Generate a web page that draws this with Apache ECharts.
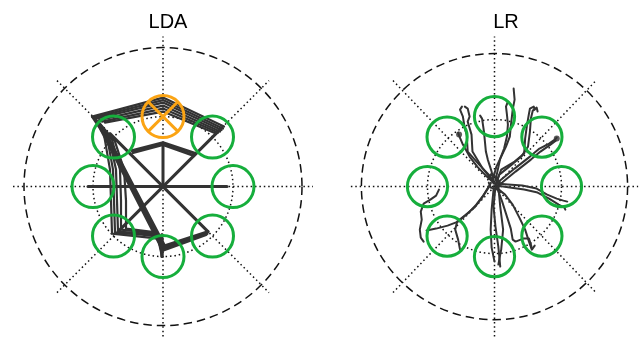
<!DOCTYPE html>
<html>
<head>
<meta charset="utf-8">
<script src="https://cdn.jsdelivr.net/npm/echarts@6/dist/echarts.min.js"></script>
<style>
  html, body { margin: 0; padding: 0; background: #fff; }
  #chart { width: 641px; height: 341px; }
</style>
</head>
<body>
<div id="chart"></div>
<script>
// Workspace geometry (mm, centre of workspace at 0,0)
const panelTitles = ['LDA', 'LR'];
const targetX = [70, 49.5, 0, -49.5, -70, -49.5, 0, 49.5];
const targetY = [0, 49.5, 70, 49.5, 0, -49.5, -70, -49.5];
const targetRadius = 21;
const workspaceRadius = 139;
const ringRadius = 70;
// dotted guide lines through the centre: [x1, y1, x2, y2]
const guideLines = [
  [-150, 0, 150, 0],
  [0, -150, 0, 150],
  [-106, -106, 106, 106],
  [-106, 106, 106, -106]
];
// LDA panel: cued target drawn in orange with a cross
const cuedTarget = 2;

// LDA decoded cursor paths (single jumps between class positions)
const ldaPaths = [
  [[0, 0], [-75, 0]],
  [[0, 0], [64, 0]],
  [[0, 0], [0, 43]],
  [[-53, 53], [45, -45]],
  [[-45, -45], [59, 59]],
  [[-31, 36], [0, 44], [33, 33]],
  [[-30, 34], [0, 42], [31, 31]],
  [[-62, 57], [-1, -62]],
  [[-60, 56], [0, -60]],
  [[-58, 55], [1, -58]],
  [[45, -45], [-1, -60], [-1, -70]],
  [[44, -47], [-1, -62]],
  [[43, -48], [-1, -64]],
  [[-1, -48], [-1, -70]]
];
// LDA repeated trials that pile up into bundles
const ldaBundlePaths = [
  [[-71, 70], [0, 89], [61, 60]],
  [[-69, 69], [0, 86.5], [60, 58]],
  [[-67, 68], [0, 84], [58.5, 56.5]],
  [[-64, 66.5], [0, 81], [57, 55]],
  [[-61, 65], [0, 78], [55, 54]],
  [[-58, 64], [0, 75], [53, 53]],
  [[-71, 70], [-59, 52], [-53, 17], [-52, -14], [-51, -47], [-23, -50], [-5, -52], [-1, -70]],
  [[-69, 69], [-56, 50], [-50, 17], [-49, -14], [-48, -46], [-21, -48], [-5, -50], [-1, -68]],
  [[-67, 67], [-54, 49], [-47, 17], [-46, -14], [-45, -45], [-18, -47], [-4, -50], [-1, -66]],
  [[-65, 65], [-51, 47], [-43, 17], [-42, -14], [-42, -43], [-15, -46], [-3, -50], [-1, -64]],
  [[-63, 63], [-48, 45], [-39, 17], [-37, -14], [-37, -42], [-13, -45], [-2, -50], [-1, -60]]
];

// LR decoded cursor paths
const lrPaths = [
  [[-1, 4], [-1, 10], [2, 20], [7, 30], [12, 40], [16, 50], [17, 60], [19, 77], [21, 87], [20, 98]],
  [[1, 6], [3, 15], [6, 28], [10, 38], [13, 50], [14, 62], [13, 72], [12, 80], [14, 85]],
  [[-1, 3], [-3, 15], [-7, 27], [-9, 35], [-10, 45], [-11, 55], [-13, 68], [-15, 71]],
  [[-1, 5], [-6, 12], [-16, 22], [-28, 35], [-29, 52], [-31, 58], [-33, 70], [-36, 77], [-34, 80]],
  [[-3, 7], [-13, 19], [-23, 35], [-24, 52], [-28, 65], [-26, 70], [-28, 78], [-31, 80]],
  [[0, 3], [-8, 10], [-18, 20], [-26, 30], [-33, 42], [-37, 51], [-38, 54]],
  [[2, 3], [4, 5], [21, 18], [37, 30], [47, 38], [57, 43], [63, 47], [65, 49]],
  [[3, 1], [8, 4], [22, 15], [38, 27], [48, 35], [57, 41], [64, 46]],
  [[1, 2], [7, 17], [21, 25], [31, 33], [32, 48], [34, 62], [36, 73], [37, 78], [41, 80], [42, 77]],
  [[1, 1], [5, 12], [18, 22], [28, 30], [35, 40], [37, 55], [38, 68], [40, 76], [44, 79], [45, 75]],
  [[2, 3], [14, 2], [29, 1], [44, -2], [55, -8], [65, -12], [72, -14], [76, -15]],
  [[2, 1], [16, -1], [31, -3], [45, -6], [57, -12], [67, -18], [73, -21], [74, -23]],
  [[2, -1], [11, -8], [19, -18], [26, -31], [32, -43], [36, -55], [39, -63], [41, -65], [42, -59]],
  [[3, -2], [8, -15], [13, -30], [17, -42], [19, -53], [22, -55], [30, -52], [36, -52], [38, -58], [39, -62]],
  [[1, 0], [-1, -20], [1, -40], [4, -60], [6, -80]],
  [[4, 0], [6, -20], [9, -43], [7, -63], [4, -78]],
  [[-1, -3], [-3, -23], [-4, -43], [-3, -61], [0, -75]],
  [[-4, 3], [-11, -8], [-19, -18], [-28, -27], [-38, -35], [-49, -39], [-61, -42], [-71, -44]],
  [[-5, 1], [-13, -11], [-21, -21], [-31, -29], [-39, -35], [-41, -43], [-38, -53], [-36, -63]],
  [[-58, -3], [-61, -9], [-67, -13], [-74, -17], [-77, -25], [-76, -33], [-78, -43], [-77, -51], [-74, -55]],
  [[-6, 8], [-3, 13], [2, 9], [6, 3], [3, -3], [-4, -1], [-6, 4]]
];
// end-point dots in the LR panel
const lrDots = [[65, 48], [-37, 52]];

const GREEN = '#16ae3c';
const ORANGE = '#fba414';
const TRACE = '#333333';

function circleSeries(idx, data, style, z) {
  return {
    type: 'custom', xAxisIndex: idx, yAxisIndex: idx, silent: true, z: z,
    animation: false, data: data,
    renderItem: function (params, api) {
      const c = api.coord([api.value(0), api.value(1)]);
      const r = api.size([api.value(2), 0])[0];
      return { type: 'circle', shape: { cx: c[0], cy: c[1], r: r },
               style: Object.assign({ fill: null }, style) };
    }
  };
}

function segmentSeries(idx, data, style, z) {
  return {
    type: 'custom', xAxisIndex: idx, yAxisIndex: idx, silent: true, z: z,
    animation: false, data: data,
    renderItem: function (params, api) {
      const a = api.coord([api.value(0), api.value(1)]);
      const b = api.coord([api.value(2), api.value(3)]);
      return { type: 'line', shape: { x1: a[0], y1: a[1], x2: b[0], y2: b[1] },
               style: Object.assign({ fill: null }, style) };
    }
  };
}

function pathSeries(idx, paths, width) {
  return paths.map(function (p) {
    return {
      type: 'line', xAxisIndex: idx, yAxisIndex: idx, data: p,
      symbol: 'none', silent: true, animation: false, z: 2,
      lineStyle: { color: TRACE, width: width, cap: 'round', join: 'round' }
    };
  });
}

function guideSeries(idx) {
  const dotted = { stroke: '#111', lineWidth: 1.5, lineDash: [1.5, 2.9] };
  return [
    segmentSeries(idx, guideLines, dotted, 1),
    circleSeries(idx, [[0, 0, ringRadius]], dotted, 1),
    circleSeries(idx, [[0, 0, workspaceRadius]],
      { stroke: '#111', lineWidth: 1.5, lineDash: [8.5, 5] }, 1)
  ];
}

const ldaTargets = [];
const lrTargets = [];
for (let i = 0; i < targetX.length; i++) {
  lrTargets.push([targetX[i], targetY[i], targetRadius]);
  if (i !== cuedTarget) ldaTargets.push([targetX[i], targetY[i], targetRadius]);
}
const cx = targetX[cuedTarget], cy = targetY[cuedTarget];
const crossHalf = 14.8;
const cueCross = [
  [cx - crossHalf, cy + crossHalf, cx + crossHalf, cy - crossHalf],
  [cx - crossHalf, cy - crossHalf, cx + crossHalf, cy + crossHalf]
];

const series = [].concat(
  guideSeries(0),
  pathSeries(0, ldaPaths, 3),
  pathSeries(0, ldaBundlePaths, 2.2),
  [circleSeries(0, ldaTargets, { stroke: GREEN, lineWidth: 3 }, 3),
   circleSeries(0, [[cx, cy, targetRadius]], { stroke: ORANGE, lineWidth: 3 }, 3),
   segmentSeries(0, cueCross, { stroke: ORANGE, lineWidth: 3 }, 3)],
  guideSeries(1),
  pathSeries(1, lrPaths, 2),
  [{ type: 'scatter', xAxisIndex: 1, yAxisIndex: 1, data: lrDots, symbolSize: 6,
     itemStyle: { color: TRACE }, silent: true, animation: false, z: 2 },
   circleSeries(1, lrTargets, { stroke: GREEN, lineWidth: 3 }, 3)]
);

const half = 153;
const axisBase = { type: 'value', min: -half, max: half, show: false };
const titleStyle = { fontFamily: 'Liberation Sans, Arial, sans-serif', fontSize: 20, fontWeight: 'normal', color: '#000' };

const chart = echarts.init(document.getElementById('chart'), null, { renderer: 'canvas' });
chart.setOption({
  animation: false,
  backgroundColor: '#ffffff',
  title: [
    { text: panelTitles[0], left: 163, top: 7, textAlign: 'center', textStyle: titleStyle },
    { text: panelTitles[1], left: 501, top: 7, textAlign: 'center', textStyle: titleStyle }
  ],
  grid: [
    { left: 163 - half, top: 186.6 - half, width: 2 * half, height: 2 * half },
    { left: 501 - half, top: 186.6 - half, width: 2 * half, height: 2 * half }
  ],
  xAxis: [Object.assign({ gridIndex: 0 }, axisBase), Object.assign({ gridIndex: 1 }, axisBase)],
  yAxis: [Object.assign({ gridIndex: 0 }, axisBase), Object.assign({ gridIndex: 1 }, axisBase)],
  series: series
});
</script>
</body>
</html>
